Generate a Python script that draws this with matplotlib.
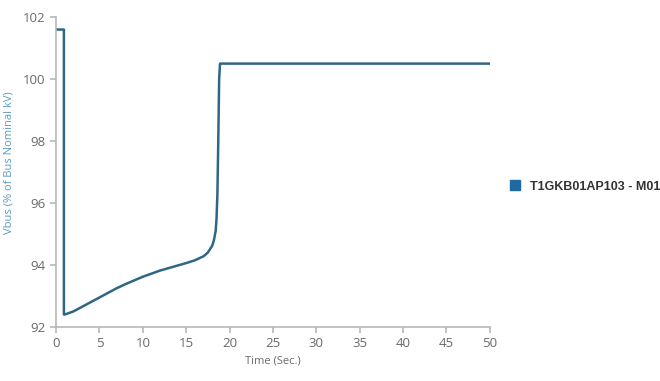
import matplotlib.pyplot as plt
from matplotlib.lines import Line2D

# bus voltage during motor start
time_s = [0.0, 0.9, 0.9, 1.0, 2.0, 3.0, 4.0, 5.0, 6.0, 7.0, 8.0, 9.0, 10.0,
          11.0, 12.0, 13.0, 14.0, 15.0, 16.0, 17.0, 17.5, 18.0, 18.2, 18.4,
          18.5, 18.6, 18.7, 18.8, 18.9, 20.0, 30.0, 40.0, 50.0]
vbus = [101.6, 101.6, 92.4, 92.4, 92.5, 92.65, 92.8, 92.95, 93.1, 93.25, 93.38,
        93.5, 93.62, 93.72, 93.82, 93.9, 93.98, 94.06, 94.15, 94.28, 94.4, 94.62,
        94.8, 95.1, 95.5, 96.3, 98.0, 100.0, 100.5, 100.5, 100.5, 100.5, 100.5]
series_name = "T1GKB01AP103 - M01"

line_color = '#2e6784'
marker_color = '#1f6aa5'
axis_color = '#b8b8b8'
text_color = '#6a6a6a'

plt.rcParams['font.family'] = ['Open Sans', 'DejaVu Sans']

fig = plt.figure(figsize=(6.6, 3.81), dpi=100)
ax = fig.add_axes([0.085, 0.142, 0.657, 0.813])
ax.plot(time_s, vbus, color=line_color, linewidth=1.8)

ax.set_xlim(0, 50)
ax.set_ylim(92, 102)
ax.set_xticks(range(0, 51, 5))
ax.set_yticks(range(92, 103, 2))

for side in ['top', 'right']:
    ax.spines[side].set_visible(False)
for side in ['left', 'bottom']:
    ax.spines[side].set_color(axis_color)
    ax.spines[side].set_linewidth(1.2)
ax.tick_params(colors=axis_color, labelcolor=text_color, labelsize=9.5,
               length=4, width=1.2)

ax.set_xlabel('Time (Sec.)', color=text_color, fontsize=8)
ax.set_ylabel('Vbus (% of Bus Nominal kV)', color='#5b9bc8', fontsize=8)
ax.yaxis.set_label_coords(-0.095, 0.53)

handle = Line2D([], [], marker='s', linestyle='none', markersize=7,
                color=marker_color)
fig.legend([handle], [series_name], loc='center left',
           bbox_to_anchor=(0.745, 0.51), frameon=False,
           prop={'family': 'Liberation Sans', 'weight': 'bold', 'size': 9},
           handletextpad=0.2, labelcolor='#333333')

fig.savefig('out.png', dpi=100)
